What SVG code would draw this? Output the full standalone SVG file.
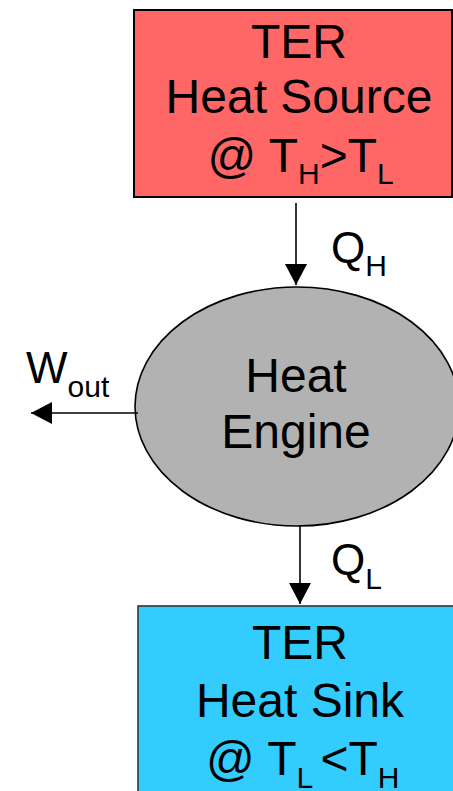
<svg xmlns="http://www.w3.org/2000/svg" width="453" height="791" viewBox="0 0 453 791">
<style>
text{font-family:"Liberation Sans",Arial,sans-serif;fill:#000}
.big{font-size:48px}
.mid{font-size:44px}
.sub{font-size:30px}
.c{text-anchor:middle}
.ln{stroke:#000;stroke-width:1.6;fill:none}
</style>
<defs>
<marker id="ah" markerUnits="userSpaceOnUse" markerWidth="22" markerHeight="22" viewBox="0 0 22 22" refX="21" refY="11" orient="auto">
<path d="M0,0 L21,11 L0,22 Z" fill="#000"/>
</marker>
</defs>
<rect width="453" height="791" fill="#fff"/>
<g id="source">
<rect x="134" y="10" width="318" height="187" fill="#FF6666" stroke="#000" stroke-width="2"/>
<text class="big c" x="299" y="58">TER</text>
<text class="big c" x="299" y="113">Heat Source</text>
<text class="big" x="207.5" y="172">@ T<tspan class="sub" dy="12">H</tspan><tspan dy="-12">&gt;T</tspan><tspan class="sub" dy="12">L</tspan></text>
</g>
<g id="engine">
<ellipse cx="297" cy="406.5" rx="162" ry="119.5" fill="#B2B2B2" stroke="#000" stroke-width="1.6"/>
<text class="big c" x="296" y="392">Heat</text>
<text class="big c" x="296" y="448">Engine</text>
</g>
<g id="sink">
<rect x="138" y="606" width="340" height="200" fill="#33CCFF" stroke="#333" stroke-width="1.6"/>
<text class="big c" x="300" y="659">TER</text>
<text class="big c" x="300" y="717">Heat Sink</text>
<text class="big" x="206" y="775">@ T<tspan class="sub" dy="13">L </tspan><tspan dy="-13">&lt;T</tspan><tspan class="sub" dy="13">H</tspan></text>
</g>
<g id="connectors">
<line class="ln" x1="296" y1="203" x2="296" y2="285" marker-end="url(#ah)"/>
<line class="ln" x1="300" y1="526" x2="300" y2="604" marker-end="url(#ah)"/>
<line class="ln" x1="138" y1="413" x2="31" y2="413" marker-end="url(#ah)"/>
<text class="mid" x="331" y="263">Q<tspan class="sub" dy="13">H</tspan></text>
<text class="mid" x="331" y="575">Q<tspan class="sub" dy="14">L</tspan></text>
<text class="mid" x="26" y="383">W<tspan class="sub" dy="14">out</tspan></text>
</g>
</svg>
